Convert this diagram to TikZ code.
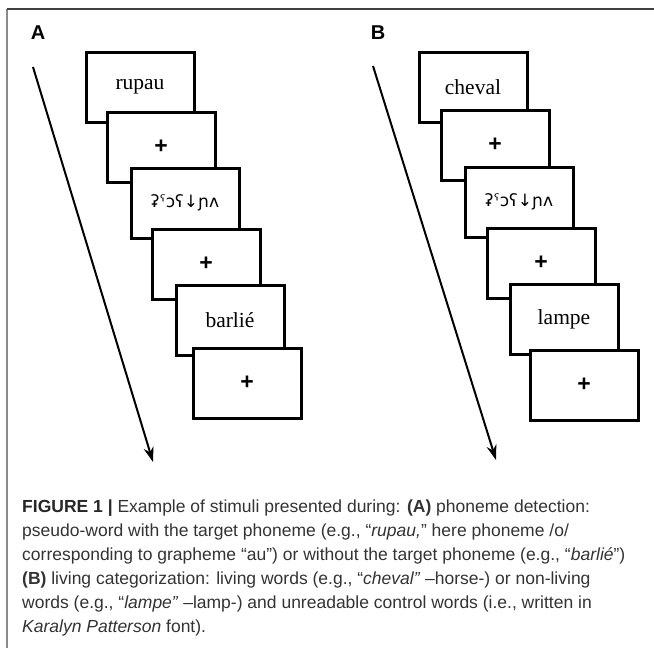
\documentclass[tikz,border=0pt]{standalone}
\usepackage{fontspec}
\setmainfont{Liberation Sans}
\newfontfamily\wordfont{Liberation Serif}
\newfontfamily\oddfont{DejaVu Sans}
\usetikzlibrary{arrows.meta}
\definecolor{captext}{HTML}{333333}
\definecolor{frameline}{HTML}{8A8A8A}
\begin{document}
\begin{tikzpicture}[x=1pt,y=-1pt,
    screen/.style={draw,line width=3pt,fill=white,minimum width=108pt,minimum height=70pt,inner sep=0pt},
    word/.style={font=\wordfont\fontsize{21.5}{24}\selectfont},
    fix/.style={font=\fontsize{23}{23}\selectfont\bfseries},
    odd/.style={font=\oddfont\fontsize{17}{17}\selectfont},
    timeline/.style={line width=2pt,-{Stealth[length=15pt,width=10pt]}},
    panel/.style={font=\fontsize{20}{20}\selectfont\bfseries,inner sep=0pt}]
    \useasboundingbox (0,0) rectangle (654,648);
    \draw[frameline,line width=1.2pt] (7,648) -- (7,9);
    \draw[black!75,line width=1.2pt] (7,9) -- (654,9);

    \node[panel] (labA) at (38,33) {A};
    \coordinate (Atop) at (33,67);
    \coordinate (Abot) at (153,462);
    \draw[timeline] (Atop) -- (Abot);
    \node[screen,word] (a1) at (140,87) {rupau};
    \node[screen,fix]  (a2) at (161,147) {+};
    \node[screen,odd]  (a3) at (185,203) {ʡˤɔʕ↓ɲʌ};
    \node[screen,fix]  (a4) at (206,264) {+};
    \node[screen,word] (a5) at (230,320) {barlié};
    \node[screen,fix]  (a6) at (247,383) {+};

    \node[panel] (labB) at (378,33) {B};
    \coordinate (Btop) at (373,66);
    \coordinate (Bbot) at (496,460);
    \draw[timeline] (Btop) -- (Bbot);
    \node[screen,word] (b1) at (473,87) {cheval};
    \node[screen,fix]  (b2) at (495,145) {+};
    \node[screen,odd]  (b3) at (519,202) {ʡˤɔʕ↓ɲʌ};
    \node[screen,fix]  (b4) at (541,263) {+};
    \node[screen,word] (b5) at (564,319) {lampe};
    \node[screen,fix]  (b6) at (584,385) {+};

    \node[anchor=north west,align=left,inner sep=0pt,text=captext,font=\fontsize{17.5}{24}\selectfont] (caption) at (22,500)
    {\textbf{\color{black!85}FIGURE 1 |} Example of stimuli presented during: \textbf{(A)} phoneme detection:\\
     pseudo-word with the target phoneme (e.g., “\textit{rupau,}” here phoneme /o/\\
     corresponding to grapheme “au”) or without the target phoneme (e.g., “\textit{barlié}”)\\
     \textbf{(B)} living categorization: living words (e.g., “\textit{cheval”} –horse-) or non-living\\
     words (e.g., “\textit{lampe”} –lamp-) and unreadable control words (i.e., written in\\
     \textit{Karalyn Patterson} font).};
\end{tikzpicture}
\end{document}
